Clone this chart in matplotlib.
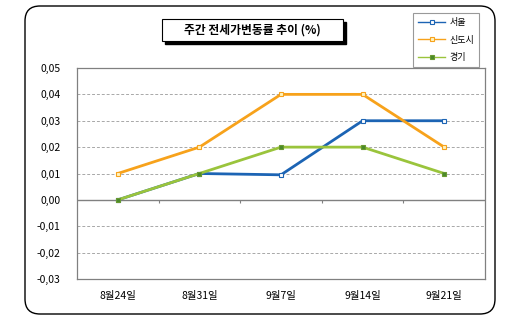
import matplotlib
matplotlib.use("Agg")
import matplotlib.pyplot as plt
from matplotlib.patches import FancyBboxPatch, Rectangle
from matplotlib.ticker import FuncFormatter

plt.rcParams['font.family'] = ['Noto Sans CJK KR', 'DejaVu Sans']

# data
dates = ['8월24일', '8월31일', '9월7일', '9월14일', '9월21일']
seoul = [0.0, 0.01, 0.0095, 0.03, 0.03]
new_town = [0.01, 0.02, 0.04, 0.04, 0.02]
gyeonggi = [0.0, 0.01, 0.02, 0.02, 0.01]
series_names = ['서울', '신도시', '경기']
yticks = [0.05, 0.04, 0.03, 0.02, 0.01, 0.0, -0.01, -0.02, -0.03]

fig = plt.figure(figsize=(5.14, 3.27), dpi=100)
fig.patch.set_facecolor('white')

# outer rounded frame (inch coords)
frame = FancyBboxPatch((0.40, 0.28), 4.40, 2.78, boxstyle='round,pad=0.15',
                       transform=fig.dpi_scale_trans, fill=False,
                       edgecolor='black', linewidth=1.0)
fig.patches.append(frame)

ax = fig.add_axes([77 / 514, (327 - 279) / 327, 408 / 514, 211 / 327])
x = range(len(dates))

ax.plot(x, seoul, color='#1c64b4', lw=2, marker='s', ms=3.5,
        mfc='white', mec='#1c64b4', mew=0.8, label=series_names[0], zorder=3)
ax.plot(x, new_town, color='#f7a21b', lw=2, marker='s', ms=3.5,
        mfc='#fff4c0', mec='#f7a21b', mew=0.8, label=series_names[1], zorder=4)
ax.plot(x, gyeonggi, color='#9ac43c', lw=2, marker='s', ms=3.5,
        mfc='#4a8a2a', mec='#6a9a30', mew=0.8, label=series_names[2], zorder=5)

ax.set_xlim(-0.5, len(dates) - 0.5)
ax.set_ylim(-0.03, 0.05)
ax.set_yticks(yticks)
ax.yaxis.set_major_formatter(FuncFormatter(lambda v, p: f'{v:.2f}'.replace('.', ',')))
ax.set_xticks(list(x))
ax.set_xticklabels(dates)
ax.tick_params(axis='x', length=0, pad=9, labelsize=7.5)
ax.tick_params(axis='y', length=0, pad=12, labelsize=7.5)
ax.grid(axis='y', color='#a8a8a8', linestyle=(0, (3, 2)), linewidth=0.7)
ax.set_axisbelow(True)
for s in ax.spines.values():
    s.set_color('#808080')
    s.set_linewidth(0.9)

# zero axis with category tick marks
ax.axhline(0, color='#808080', lw=1.0, zorder=2)
ax.vlines([i + 0.5 for i in range(len(dates) - 1)], -0.0012, 0, color='#808080', lw=0.8)

# title box with shadow (inch coords)
fig.patches.append(Rectangle((1.65, 2.83), 1.81, 0.22, transform=fig.dpi_scale_trans,
                             facecolor='black', edgecolor='black'))
fig.patches.append(Rectangle((1.62, 2.86), 1.81, 0.22, transform=fig.dpi_scale_trans,
                             facecolor='white', edgecolor='black', linewidth=0.8))
fig.text(2.525 / 5.14, 2.97 / 3.27, '주간 전세가변동률 추이 (%)', ha='center', va='center',
         fontsize=8.5, fontweight='bold')

leg = fig.legend(loc='upper left', bbox_to_anchor=(413 / 514, (327 - 13) / 327),
                 fontsize=6.5, frameon=True, fancybox=False, handlelength=3.0,
                 labelspacing=0.95, borderpad=0.55, handletextpad=0.5,
                 borderaxespad=0)
leg.get_frame().set_edgecolor('#808080')
leg.get_frame().set_linewidth(0.8)
for h in leg.get_lines():
    h.set_linewidth(1.0)
    h.set_markersize(3)

fig.savefig('out.png', dpi=100)
